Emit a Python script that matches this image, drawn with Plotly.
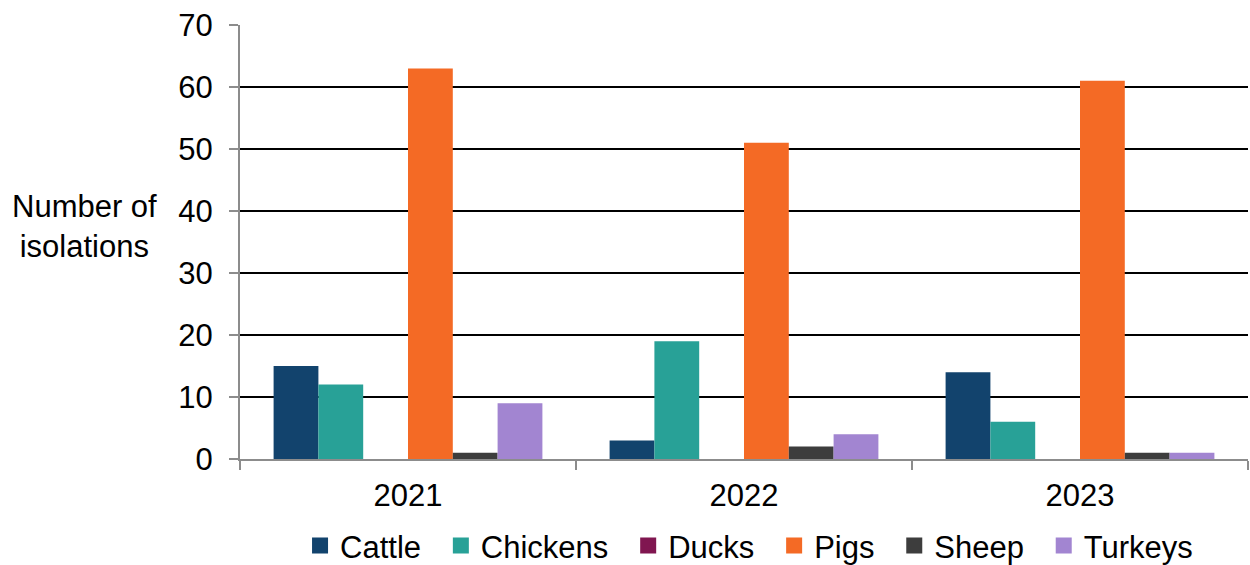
import plotly.graph_objects as go

years = ["2021", "2022", "2023"]
species = ["Cattle", "Chickens", "Ducks", "Pigs", "Sheep", "Turkeys"]
cattle = [15, 3, 14]
chickens = [12, 19, 6]
ducks = [0, 0, 0]
pigs = [63, 51, 61]
sheep = [1, 2, 1]
turkeys = [9, 4, 1]
colors = ["#12436D", "#28A197", "#801650", "#F46A25", "#3D3D3D", "#A285D1"]
y_ticks = [0, 10, 20, 30, 40, 50, 60, 70]

series = [cattle, chickens, ducks, pigs, sheep, turkeys]

fig = go.Figure()
for name, vals, col in zip(species, series, colors):
    fig.add_trace(go.Bar(x=years, y=vals, name=name, marker_color=col,
                         marker_line_width=0, showlegend=False,
                         legendgroup=name))
# legend keys with larger square swatches; a little padding after each label
for i, (name, col) in enumerate(zip(species, colors)):
    label = name if i == len(species) - 1 else name + "\u00a0\u2009"
    fig.add_trace(go.Scatter(x=[None], y=[None], mode="markers", name=label,
                             legendgroup=name,
                             marker=dict(symbol="square", size=19, color=col)))

font = "Liberation Sans, Arial, sans-serif"
fig.update_layout(
    width=1250, height=565,
    margin=dict(l=240, r=2, t=25, b=106, autoexpand=False),
    paper_bgcolor="white", plot_bgcolor="white",
    font=dict(family=font, size=31, color="black"),
    barmode="group", bargap=0.2, bargroupgap=0,
    showlegend=True,
    legend=dict(orientation="h", x=0.505, xanchor="center",
                yref="container", y=0.034, yanchor="middle",
                font=dict(size=31), itemwidth=30, tracegroupgap=0),
    xaxis=dict(showline=True, linecolor="#8c8c8c", linewidth=2,
               ticks="outside", tickson="boundaries", ticklen=9,
               tickcolor="#8c8c8c", tickwidth=2, showgrid=False,
               ticklabelstandoff=8, tickfont=dict(size=31)),
    yaxis=dict(range=[0, 70], tickvals=y_ticks, showline=True,
               linecolor="#8c8c8c", linewidth=2, ticks="outside",
               ticklen=9, tickcolor="#8c8c8c", tickwidth=2,
               gridcolor="black", gridwidth=1.5, zeroline=False,
               ticklabelstandoff=10, tickfont=dict(size=31)),
)

fig.add_annotation(text="Number of<br>isolations", xref="paper", yref="paper",
                   x=-0.154, y=0.535, xanchor="center", yanchor="middle",
                   showarrow=False, font=dict(size=31), align="center")

fig.write_html("out.html")
